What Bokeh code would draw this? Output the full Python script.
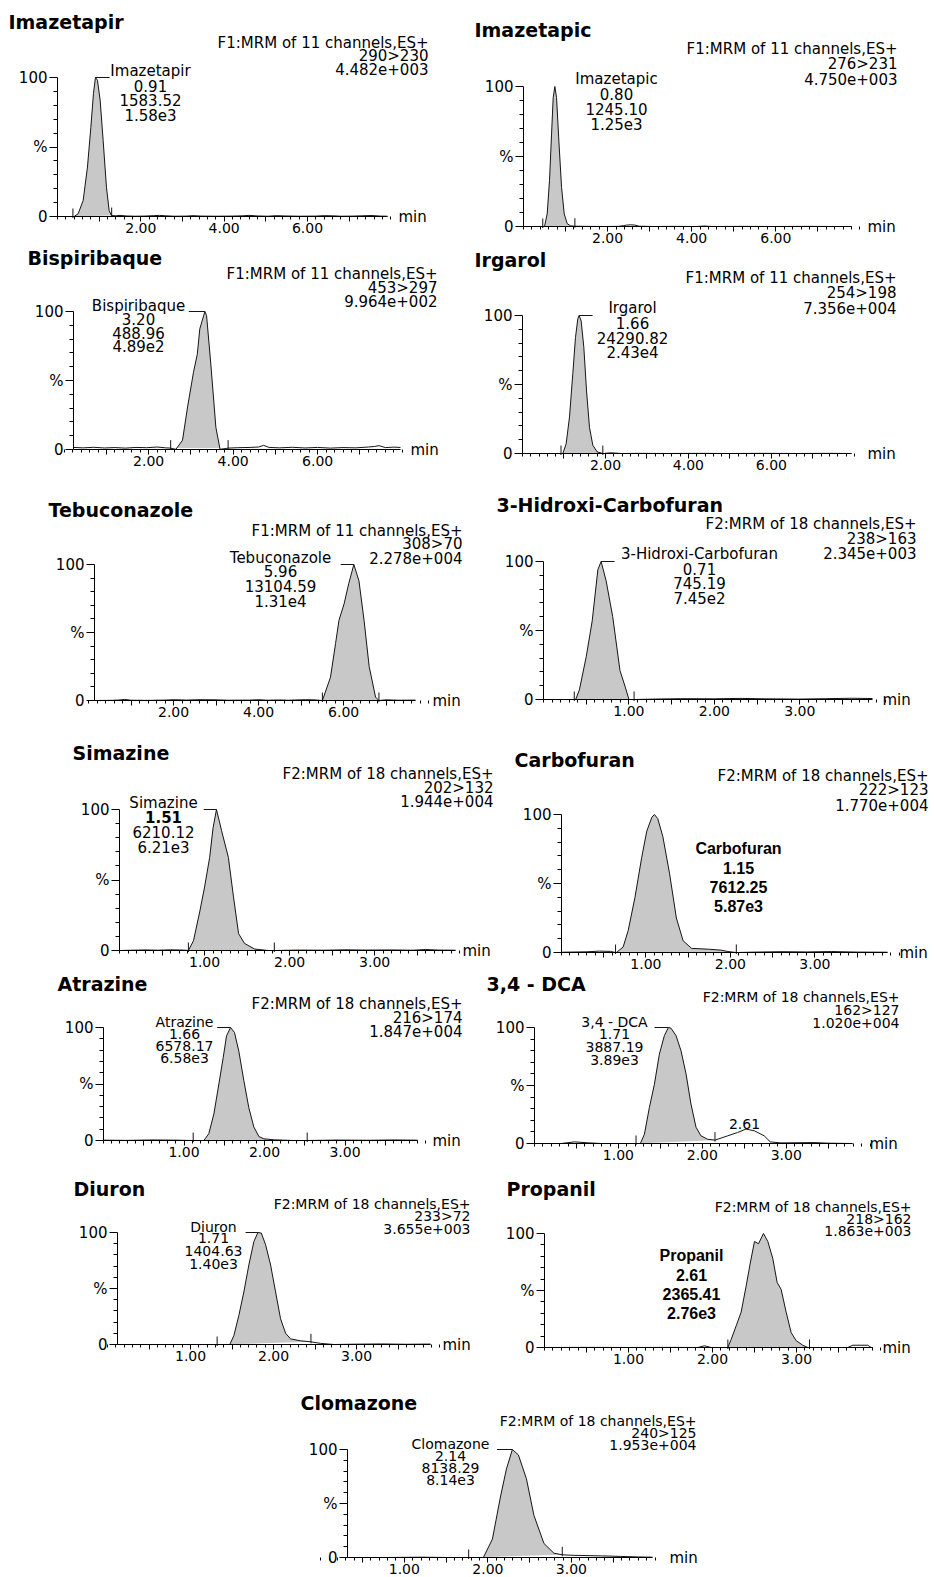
from bokeh.plotting import figure
from bokeh.layouts import column, row
from bokeh.models import Range1d, FixedTicker, Label, LinearAxis
from bokeh.embed import file_html
from bokeh.resources import INLINE

# ======================= DATA =======================
compounds = ["Imazetapir", "Imazetapic", "Bispiribaque", "Irgarol", "Tebuconazole",
             "3-Hidroxi-Carbofuran", "Simazine", "Carbofuran", "Atrazine", "3,4 - DCA",
             "Diuron", "Propanil", "Clomazone"]
functions = ["F1:MRM of 11 channels,ES+"] * 5 + ["F2:MRM of 18 channels,ES+"] * 8
transitions = ["290>230", "276>231", "453>297", "254>198", "308>70", "238>163", "202>132",
               "222>123", "216>174", "162>127", "233>72", "218>162", "240>125"]
max_intensity = ["4.482e+003", "4.750e+003", "9.964e+002", "7.356e+004", "2.278e+004",
                 "2.345e+003", "1.944e+004", "1.770e+004", "1.847e+004", "1.020e+004",
                 "3.655e+003", "1.863e+003", "1.953e+004"]
rt_text = ["0.91", "0.80", "3.20", "1.66", "5.96", "0.71", "1.51", "1.15", "1.66", "1.71",
           "1.71", "2.61", "2.14"]
area_text = ["1583.52", "1245.10", "488.96", "24290.82", "13104.59", "745.19", "6210.12",
             "7612.25", "6578.17", "3887.19", "1404.63", "2365.41", "8138.29"]
height_text = ["1.58e3", "1.25e3", "4.89e2", "2.43e4", "1.31e4", "7.45e2", "6.21e3", "5.87e3",
               "6.58e3", "3.89e3", "1.40e3", "2.76e3", "8.14e3"]
dca_second_peak_text = "2.61"

# traces: (retention time in min, relative intensity in %)
imazetapir = [(0.38, 0.0), (0.40, 0.0), (0.496, 2.0), (0.616, 11.5), (0.719, 35.6), (0.80, 64.0),
              (0.863, 88.5), (0.911, 100.0), (0.959, 98.0), (1.023, 83.7), (1.095, 54.8),
              (1.175, 21.0), (1.239, 4.3), (1.295, 0.7), (1.40, 0.5), (1.50, 0.8), (1.65, 0.4),
              (1.85, 0.2), (2.10, 0.3), (2.30, 0.6), (2.45, 0.8), (2.60, 0.5), (2.80, 0.2),
              (3.10, 0.3), (3.25, 0.6), (3.45, 0.3), (3.80, 0.2), (4.20, 0.3), (4.45, 0.5),
              (4.60, 0.8), (4.80, 0.4), (5.05, 0.2), (5.25, 0.6), (5.45, 0.4), (5.80, 0.2),
              (6.20, 0.3), (6.40, 0.6), (6.60, 0.5), (6.80, 0.2), (7.10, 0.3), (7.30, 0.5),
              (7.55, 0.7), (7.75, 0.3), (7.92, 0.2)]
imazetapic = [(0.44, 0.0), (0.50, 0.0), (0.563, 9.0), (0.619, 33.0), (0.667, 66.0), (0.706, 92.0),
              (0.746, 100.0), (0.786, 92.0), (0.841, 61.0), (0.905, 28.0), (0.968, 9.0),
              (1.04, 2.0), (1.119, 0.5), (1.22, 0.2), (1.50, 0.1), (1.90, 0.0), (2.25, 0.1),
              (2.38, 0.6), (2.45, 1.0), (2.55, 1.2), (2.65, 1.0), (2.75, 0.2), (3.10, 0.0),
              (3.60, 0.1), (4.10, 0.0), (4.30, 0.3), (4.50, 0.0), (5.20, 0.1), (6.00, 0.0),
              (6.80, 0.1), (7.40, 0.0), (7.80, 0.0)]
bispiribaque = [(0.22, 1.5), (0.45, 1.2), (0.70, 1.6), (0.95, 1.1), (1.20, 1.4), (1.45, 1.0),
                (1.70, 1.5), (1.95, 1.3), (2.20, 1.8), (2.40, 1.2), (2.52, 1.0), (2.64, 0.0),
                (2.80, 6.7), (2.92, 30.8), (3.06, 56.0), (3.15, 69.0), (3.21, 87.5),
                (3.33, 100.0), (3.37, 97.0), (3.47, 62.0), (3.59, 16.0), (3.69, 0.0),
                (3.88, 1.0), (4.10, 1.3), (4.40, 1.5), (4.60, 1.8), (4.72, 3.0), (4.85, 1.5),
                (5.10, 1.2), (5.40, 1.6), (5.70, 1.1), (6.00, 1.5), (6.30, 1.0), (6.60, 1.4),
                (6.90, 1.2), (7.20, 1.8), (7.35, 2.2), (7.45, 2.8), (7.60, 1.4), (7.80, 1.7),
                (7.96, 1.5)]
irgarol = [(0.90, 0.0), (0.928, 0.0), (0.972, 0.0), (1.052, 7.0), (1.133, 26.5), (1.213, 58.0),
           (1.277, 84.0), (1.333, 97.6), (1.365, 100.0), (1.414, 96.0), (1.478, 77.0),
           (1.542, 46.0), (1.614, 19.0), (1.695, 6.0), (1.799, 1.2), (1.936, 0.0), (2.137, 0.5),
           (2.378, 0.0), (2.80, 0.1), (3.50, 0.0), (4.20, 0.1), (5.00, 0.0), (5.80, 0.1),
           (6.60, 0.0), (7.40, 0.1), (7.93, 0.0)]
tebuconazole = [(0.14, 0.0), (0.50, 0.1), (0.70, 0.3), (0.85, 0.8), (1.00, 0.2), (1.40, 0.1),
                (1.80, 0.3), (2.00, 0.6), (2.30, 0.3), (2.60, 0.6), (3.00, 0.5), (3.30, 0.2),
                (3.80, 0.3), (4.00, 0.6), (4.20, 0.2), (4.50, 0.4), (4.70, 0.2), (5.10, 0.6),
                (5.30, 0.5), (5.50, 0.0), (5.69, 17.0), (5.81, 42.0), (5.89, 59.0), (6.01, 71.0),
                (6.12, 86.0), (6.24, 100.0), (6.36, 88.0), (6.48, 59.0), (6.60, 25.0),
                (6.75, 2.5), (6.83, 0.0), (7.00, 0.5), (7.30, 0.2), (7.69, 0.3)]
hidroxi_carbofuran = [(0.36, 0.0), (0.376, 0.0), (0.42, 7.0), (0.50, 31.0), (0.57, 57.0),
                      (0.636, 94.0), (0.674, 100.0), (0.733, 86.0), (0.81, 60.0), (0.895, 21.0),
                      (0.957, 9.0), (1.00, 0.0), (1.06, 0.0), (1.30, 0.3), (1.60, 0.6),
                      (2.00, 0.5), (2.30, 0.8), (2.60, 0.5), (3.00, 0.3), (3.30, 0.6),
                      (3.60, 0.9), (3.85, 0.7)]
simazine = [(0.00, 0.0), (0.30, 0.4), (0.45, 0.2), (0.60, 0.5), (0.75, 0.3), (0.81, 0.0),
            (0.87, 7.0), (0.945, 28.0), (1.00, 45.0), (1.06, 66.0), (1.10, 87.0), (1.14, 100.0),
            (1.20, 85.0), (1.28, 66.0), (1.34, 38.0), (1.40, 12.0), (1.47, 5.0), (1.59, 1.0),
            (1.75, 0.0), (1.82, 0.0), (2.10, 0.3), (2.40, 0.2), (2.65, 0.5), (2.90, 0.3),
            (3.20, 0.4), (3.45, 0.2), (3.60, 0.7), (3.75, 0.3), (3.95, 0.2)]
carbofuran = [(0.00, 0.2), (0.30, 0.5), (0.45, 1.0), (0.58, 0.8), (0.64, 0.0), (0.65, 0.0),
              (0.73, 4.0), (0.79, 16.0), (0.87, 40.0), (0.95, 69.0), (1.01, 88.0), (1.07, 98.0),
              (1.10, 100.0), (1.14, 97.0), (1.20, 84.0), (1.28, 57.0), (1.36, 25.0), (1.44, 8.5),
              (1.54, 3.0), (1.74, 2.4), (1.89, 1.7), (1.97, 0.7), (2.07, 0.0), (2.30, 0.3),
              (2.60, 0.6), (2.90, 0.4), (3.20, 0.7), (3.50, 0.3), (3.86, 0.2)]
atrazine = [(0.00, 0.3), (0.30, 0.1), (0.60, 0.5), (0.90, 0.3), (1.114, 0.0), (1.246, 0.0),
            (1.308, 6.0), (1.371, 23.5), (1.433, 50.0), (1.487, 73.5), (1.528, 92.6),
            (1.578, 100.0), (1.627, 95.6), (1.681, 79.0), (1.743, 53.0), (1.805, 29.0),
            (1.867, 12.0), (1.930, 3.5), (1.991, 1.5), (2.116, 0.6), (2.364, 0.0), (2.530, 0.0),
            (2.90, 0.4), (3.30, 0.2), (3.60, 0.5), (3.90, 0.3)]
dca = [(0.00, 0.0), (0.32, 0.0), (0.476, 1.4), (0.635, 0.6), (0.794, 0.0), (1.21, 0.0),
       (1.262, 0.0), (1.31, 8.0), (1.369, 31.0), (1.429, 51.0), (1.488, 77.0), (1.548, 93.0),
       (1.595, 100.0), (1.627, 99.4), (1.687, 93.0), (1.746, 80.0), (1.806, 60.0), (1.865, 34.0),
       (1.925, 14.0), (1.984, 6.6), (2.063, 3.7), (2.151, 2.9), (2.302, 6.6), (2.421, 9.5),
       (2.52, 12.4), (2.619, 11.0), (2.738, 6.6), (2.81, 1.4), (2.937, 0.5), (3.333, 0.8),
       (3.49, 0.3), (3.79, 0.0)]
diuron = [(0.12, 0.0), (0.50, 0.0), (0.90, 0.0), (1.20, 0.0), (1.32, 0.0), (1.473, 0.0),
          (1.522, 8.0), (1.582, 26.0), (1.642, 47.0), (1.702, 71.0), (1.763, 92.0),
          (1.811, 100.0), (1.852, 99.5), (1.904, 89.0), (1.964, 71.0), (2.024, 47.0),
          (2.084, 23.0), (2.145, 10.0), (2.205, 5.0), (2.325, 3.3), (2.446, 2.4), (2.566, 1.0),
          (2.727, 0.0), (3.00, 0.3), (3.30, 0.5), (3.60, 0.2), (3.89, 0.4)]
propanil = [(0.00, 0.0), (0.50, 0.1), (1.00, 0.0), (1.50, 0.1), (1.825, 0.0), (1.905, 1.5),
            (1.984, 0.0), (2.10, 0.0), (2.183, 0.0), (2.222, 7.0), (2.282, 19.0), (2.341, 31.0),
            (2.401, 54.0), (2.452, 75.0), (2.50, 93.0), (2.548, 91.0), (2.607, 100.0),
            (2.659, 93.0), (2.718, 78.0), (2.770, 57.0), (2.817, 51.0), (2.877, 31.0),
            (2.937, 13.0), (2.996, 6.0), (3.075, 2.0), (3.135, 0.0), (3.30, 0.0), (3.611, 0.0),
            (3.671, 2.0), (3.849, 2.0), (3.889, 0.0), (3.905, 0.0)]
clomazone = [(0.32, 0.0), (0.80, 0.0), (1.20, 0.3), (1.50, 0.0), (1.77, 0.0), (1.946, 0.0),
             (2.054, 17.0), (2.150, 56.0), (2.222, 82.0), (2.293, 100.0), (2.365, 95.0),
             (2.461, 73.0), (2.551, 39.0), (2.671, 13.0), (2.790, 4.0), (2.89, 2.5), (3.03, 2.0),
             (3.35, 1.5), (3.59, 1.0), (3.80, 0.5), (3.97, 0.3)]

traces = [imazetapir, imazetapic, bispiribaque, irgarol, tebuconazole, hidroxi_carbofuran,
          simazine, carbofuran, atrazine, dca, diuron, propanil, clomazone]
# integration limits (min)
integration = [[0.37, 1.30], [0.458, 1.222], [2.52, 3.88], [0.928, 1.936], [5.50, 6.83],
               [0.36, 1.06], [0.81, 1.82], [0.64, 2.07], [1.114, 2.53], [1.21, 2.151],
               [1.32, 2.45], [2.183, 3.155], [1.77, 2.89]]

# ======================= LAYOUT / STYLE (page pixels) =======================
FONT = "DejaVu Sans"
LAYOUT = [
    dict(cell=(0, 0, 470, 247), frame=(57, 77, 387, 216), xr=(0.0, 7.92), fn=1, title=(8, 21),
         head=(428, [42, 55, 68], "15px"), lab=(150, [70, 85, 99, 114], "15px"), minx=398, lead=1.25),
    dict(cell=(470, 0, 934, 247), frame=(523, 86, 851, 226), xr=(0.0, 7.8), fn=1, title=(474, 29),
         head=(897, [48, 63, 78], "15px"), lab=(616, [78, 93, 108, 123], "15px"), minx=867, lead=None),
    dict(cell=(0, 247, 470, 485), frame=(73, 311, 400, 449), xr=(0.22, 7.96), fn=1, title=(27, 257),
         head=(437, [273, 287, 300], "15px"), lab=(138, [305, 318, 332, 345], "15px"), minx=410, lead=2.95),
    dict(cell=(470, 247, 934, 485), frame=(522, 315, 851, 453), xr=(0.0, 7.93), fn=1, title=(474, 259),
         head=(896, [277, 292, 307], "15px"), lab=(632, [307, 322, 337, 351], "15px"), minx=867, lead=1.69),
    dict(cell=(0, 485, 470, 735), frame=(94, 564, 415, 700), xr=(0.14, 7.69), fn=1, title=(48, 509),
         head=(462, [530, 543, 557], "15px"), lab=(280, [557, 570, 585, 600], "15px"), minx=432, lead=5.93),
    dict(cell=(470, 485, 934, 735), frame=(543, 561, 872, 699), xr=(0.0, 3.85), fn=2, title=(496, 504),
         head=(916, [523, 538, 552], "15px"), lab=(699, [553, 568, 582, 597], "15px"), minx=882, lead=0.83),
    dict(cell=(0, 735, 505, 973), frame=(119, 809, 455, 950), xr=(0.0, 3.95), fn=2, title=(72, 752),
         head=(493, [773, 787, 800], "15px"), lab=(163, [802, 816, 831, 846], "15px"), minx=462, lead=0.99,
         bold_rt=True),
    dict(cell=(505, 735, 934, 973), frame=(561, 814, 887, 952), xr=(0.0, 3.86), fn=2, title=(514, 759),
         head=(928, [775, 789, 804], "15px"), lab=(738, [848, 867, 886, 905], "15px"), minx=899, lead=None,
         bold_all=True),
    dict(cell=(0, 973, 474, 1170), frame=(103, 1027, 417, 1140), xr=(0.0, 3.9), fn=2, title=(57, 983),
         head=(462, [1003, 1017, 1030], "15px"), lab=(184, [1021, 1033, 1045, 1057], "14px"), minx=432,
         lead=1.412),
    dict(cell=(474, 973, 934, 1170), frame=(534, 1027, 852, 1143), xr=(0.0, 3.79), fn=2, title=(486, 983),
         head=(899, [996, 1009, 1022], "14px"), lab=(614, [1021, 1033, 1046, 1059], "14px"), minx=869,
         lead=1.43, extra=(744, 1123)),
    dict(cell=(0, 1170, 478, 1380), frame=(117, 1232, 430, 1344), xr=(0.12, 3.89), fn=2, title=(73, 1188),
         head=(470, [1203, 1215, 1228], "14px"), lab=(213, [1226, 1237, 1250, 1263], "14px"), minx=442,
         lead=1.663),
    dict(cell=(478, 1170, 934, 1380), frame=(544, 1233, 872, 1347), xr=(0.0, 3.905), fn=2, title=(506, 1188),
         head=(911, [1206, 1218, 1230], "14px"), lab=(691, [1255, 1274, 1293, 1312], "15px"), minx=882,
         lead=None, bold_all=True),
    dict(cell=(0, 1380, 934, 1576), frame=(347, 1449, 652, 1557), xr=(0.32, 3.97), fn=2, title=(300, 1402),
         head=(696, [1420, 1432, 1444], "14px"), lab=(450, [1443, 1455, 1467, 1479], "14px"), minx=669,
         lead=2.11),
]
ROWS = [[0, 1], [2, 3], [4, 5], [6, 7], [8, 9], [10, 11], [12]]
LINE = "#151515"
FILL = "#c8c8c8"


def add_text(p, L, px, py, s, align, size, font=FONT, style="normal"):
    fx0, fy0, fx1, fy1 = L["frame"]
    p.add_layout(Label(x=L["xr"][0], y=100, x_offset=px - fx0, y_offset=fy0 - py, text=s,
                       text_align=align, text_baseline="middle", text_font=font,
                       text_font_size=size, text_font_style=style, text_color="black"))


def style_axis(ax, size):
    ax.axis_line_color = "black"
    ax.major_tick_line_color = "black"
    ax.minor_tick_line_color = "black"
    ax.major_tick_in = 0
    ax.minor_tick_in = 0
    ax.major_label_text_font = FONT
    ax.major_label_text_font_size = size
    ax.major_label_text_color = "black"


def make_panel(k):
    L = LAYOUT[k]
    cx0, cy0, cx1, cy1 = L["cell"]
    fx0, fy0, fx1, fy1 = L["frame"]
    x0, x1 = L["xr"]
    W, H = cx1 - cx0, cy1 - cy0
    sx = (x1 - x0) / (fx1 - fx0)          # minutes per pixel
    sy = 100.0 / (fy1 - fy0)              # percent per pixel
    xs = x0 - (fx0 - cx0) * sx
    ys = 0.0 - (cy1 - fy1) * sy
    p = figure(width=W, height=H, x_range=Range1d(xs, xs + W * sx), y_range=Range1d(ys, ys + H * sy),
               output_backend="svg", toolbar_location=None, title=None,
               x_axis_location=None, y_axis_location=None,
               min_border_left=0, min_border_right=0, min_border_top=0, min_border_bottom=0)
    p.outline_line_color = None
    p.xgrid.visible = False
    p.ygrid.visible = False
    p.background_fill_color = "white"
    p.border_fill_color = "white"

    # ---- axes (drawn at fixed data locations inside the panel) ----
    if L["fn"] == 1:
        majors = [1.0, 2.0, 3.0, 4.0, 5.0, 6.0, 7.0]
        shown = {2.0: "2.00", 4.0: "4.00", 6.0: "6.00"}
        minors = [round(0.2 * j, 2) for j in range(0, 41)]
    else:
        majors = [0.5, 1.0, 1.5, 2.0, 2.5, 3.0, 3.5]
        shown = {1.0: "1.00", 2.0: "2.00", 3.0: "3.00"}
        minors = [round(0.1 * j, 2) for j in range(0, 41)]
    xa = LinearAxis(fixed_location=0, bounds=(x0, x1),
                    ticker=FixedTicker(ticks=majors, minor_ticks=minors),
                    major_label_overrides={m: shown.get(m, "") for m in majors})
    style_axis(xa, "14px")
    xa.major_tick_out = 5
    xa.minor_tick_out = 3
    xa.major_label_standoff = 1
    p.add_layout(xa, "below")

    ya = LinearAxis(fixed_location=x0, bounds=(0, 100),
                    ticker=FixedTicker(ticks=[0, 50, 100], minor_ticks=[10, 20, 30, 40, 60, 70, 80, 90]),
                    major_label_overrides={0: "0", 50: "%", 100: "100"})
    style_axis(ya, "15px")
    ya.major_tick_out = 8
    ya.minor_tick_out = 4
    ya.major_label_standoff = 2
    p.add_layout(ya, "left")

    # ---- trace ----
    tr = traces[k]
    t = [a for a, b in tr]
    v = [b for a, b in tr]
    lo, hi = integration[k]
    pk = [(a, b) for a, b in tr if lo <= a <= hi]
    p.patch([a for a, b in pk], [b for a, b in pk], fill_color=FILL, line_color=None)
    p.line(t, v, line_color=LINE, line_width=1)

    # integration markers
    mh = 8.0 * sy
    for lim in (lo, hi):
        j = min(range(len(t)), key=lambda n: abs(t[n] - lim))
        base = v[j]
        p.segment(x0=[lim], y0=[base - 1.5 * sy], x1=[lim], y1=[base + mh], line_color=LINE, line_width=1)

    # leader from apex to label
    if L["lead"] is not None:
        ja = max(range(len(v)), key=lambda n: v[n])
        p.segment(x0=[t[ja]], y0=[100], x1=[L["lead"]], y1=[100], line_color=LINE, line_width=1)

    # ---- texts ----
    tx, ty = L["title"]
    add_text(p, L, tx, ty, compounds[k], "left", "19px", style="bold")
    hx, hys, hs = L["head"]
    for s, yy in zip([functions[k], transitions[k], max_intensity[k]], hys):
        add_text(p, L, hx, yy, s, "right", hs)
    lx, lys, ls = L["lab"]
    lines = [compounds[k], rt_text[k], area_text[k], height_text[k]]
    for n, (s, yy) in enumerate(zip(lines, lys)):
        if L.get("bold_all"):
            add_text(p, L, lx, yy, s, "center", "16px", font="Liberation Sans", style="bold")
        elif L.get("bold_rt") and n == 1:
            add_text(p, L, lx, yy, s, "center", ls, style="bold")
        else:
            add_text(p, L, lx, yy, s, "center", ls)
    if "extra" in L:
        ex, ey = L["extra"]
        add_text(p, L, ex, ey, dca_second_peak_text, "center", ls)
    # "min" axis unit
    p.add_layout(Label(x=x1, y=0, x_offset=L["minx"] - fx1, y_offset=0, text="min",
                       text_align="left", text_baseline="middle", text_font=FONT,
                       text_font_size="15px", text_color="black"))
    return p


layout = column([row([make_panel(k) for k in r]) for r in ROWS])
open("out.html", "w").write(file_html(layout, INLINE, "Cromatogramas"))
